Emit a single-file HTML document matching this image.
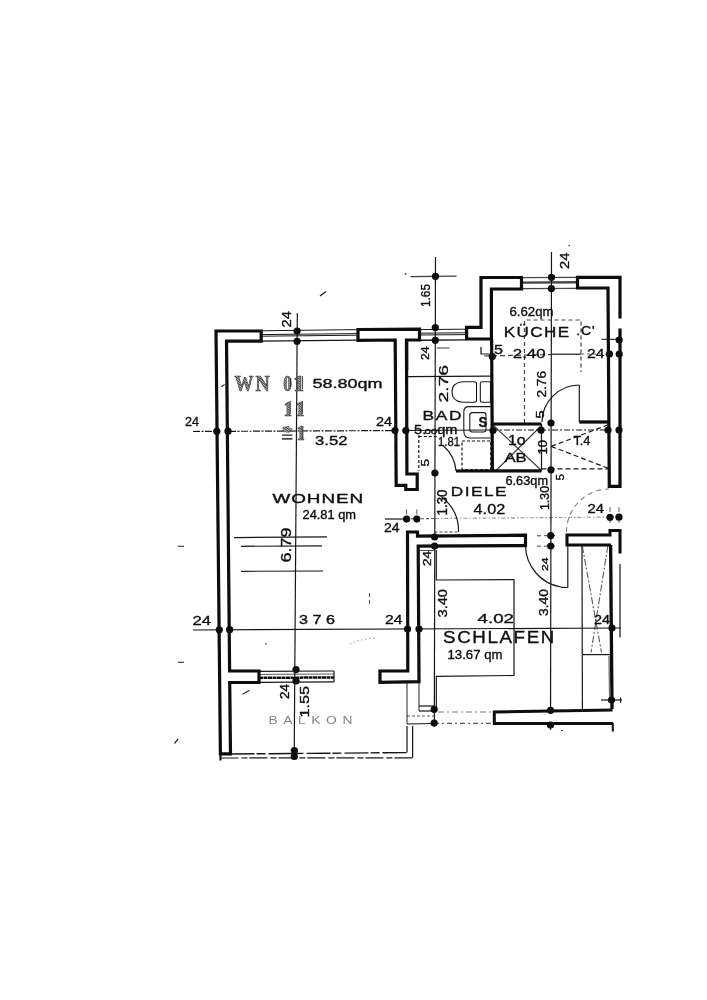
<!DOCTYPE html>
<html><head><meta charset="utf-8"><title>Grundriss</title>
<style>
html,body{margin:0;padding:0;background:#fff;}
body{width:707px;height:1000px;overflow:hidden;font-family:"Liberation Sans",sans-serif;}
svg{display:block;}
</style></head><body>
<svg width="707" height="1000" viewBox="0 0 707 1000">
<defs><filter id="soft" x="0" y="0" width="707" height="1000" filterUnits="userSpaceOnUse"><feGaussianBlur stdDeviation="0.45"/></filter><pattern id="hatch" width="1.5" height="1.5" patternUnits="userSpaceOnUse" patternTransform="rotate(62)"><rect width="1.5" height="1.5" fill="#c4c4c4"/><rect width="0.8" height="1.5" fill="#444"/></pattern></defs>
<rect width="707" height="1000" fill="#ffffff"/>
<g filter="url(#soft)">
<line x1="297.3" y1="313" x2="294.2" y2="757" stroke="#181818" stroke-width="1.2"/>
<line x1="435.5" y1="257" x2="434.3" y2="727" stroke="#181818" stroke-width="1.2"/>
<line x1="551.5" y1="252" x2="550.5" y2="730" stroke="#181818" stroke-width="1.2"/>
<line x1="193" y1="431.5" x2="406" y2="430.5" stroke="#181818" stroke-width="1.2" stroke-dasharray="7 1.5 2 1.5"/>
<line x1="406" y1="430.5" x2="492" y2="430" stroke="#181818" stroke-width="1.1"/>
<line x1="492" y1="430" x2="621" y2="430" stroke="#181818" stroke-width="1.2" stroke-dasharray="6 2 2 2"/>
<line x1="193" y1="630" x2="621" y2="628" stroke="#181818" stroke-width="1.2"/>
<line x1="484" y1="356" x2="552" y2="354.5" stroke="#181818" stroke-width="1.2" stroke-dasharray="5 3" stroke-opacity="0.8"/>
<line x1="552" y1="354.2" x2="581" y2="354.2" stroke="#181818" stroke-width="1.2"/>
<line x1="581" y1="354" x2="621" y2="354" stroke="#181818" stroke-width="1.2" stroke-dasharray="3 3" stroke-opacity="0.7"/>
<line x1="385" y1="519" x2="406" y2="519" stroke="#181818" stroke-width="1.2"/>
<line x1="406" y1="519" x2="435" y2="518.5" stroke="#181818" stroke-width="1.1" stroke-dasharray="3 2" stroke-opacity="0.7"/>
<line x1="435" y1="518.5" x2="621" y2="517" stroke="#181818" stroke-width="1.1" stroke-dasharray="4 2 1.5 2" stroke-opacity="0.45"/>
<line x1="410.5" y1="276.6" x2="456.5" y2="276.2" stroke="#181818" stroke-width="1.2" stroke-opacity="0.85"/>
<path d="M216,331 L261.2,331 L261.2,341.2 L226.5,341.2 L229.6,671 L259,671 L259,682.5 L229.7,682.5 L230.5,753.8 L220.4,753.8 Z" fill="#fff" stroke="#0a0a0a" stroke-width="3.2" stroke-linejoin="miter" />
<line x1="220.4" y1="753" x2="220.5" y2="760.5" stroke="#0a0a0a" stroke-width="2"/>
<path d="M358,329.5 L419.5,329.2 L419.5,340 L406.5,340 L406.9,474 L417.2,474 L417.2,489.5 L405.8,489.5 L405.8,485.3 L396.2,485.3 L395.2,340 L358,340.3 Z" fill="#fff" stroke="#0a0a0a" stroke-width="3.2" stroke-linejoin="miter" />
<line x1="406.6" y1="340" x2="406.6" y2="370" stroke="#0a0a0a" stroke-width="3.3"/>
<path d="M481,277.5 L521.5,277.5 L521.5,289 L491.4,289 L491.4,339 L466.6,339 L466.6,327.3 L481,327.3 Z" fill="#fff" stroke="#0a0a0a" stroke-width="3.2" stroke-linejoin="miter" />
<line x1="491.6" y1="339" x2="492.4" y2="471" stroke="#0a0a0a" stroke-width="3.2"/>
<path d="M577.5,277.3 L620,277.3 L620,486.3 L609.3,486.3 L608,288 L577.5,288 Z" fill="#fff" stroke="#0a0a0a" stroke-width="3.2" stroke-linejoin="miter" />
<line x1="620" y1="318.5" x2="620" y2="328.5" stroke="#fff" stroke-width="6"/>
<line x1="579.3" y1="422" x2="608.5" y2="422" stroke="#0a0a0a" stroke-width="3.2"/>
<line x1="492.5" y1="424" x2="541.5" y2="424" stroke="#0a0a0a" stroke-width="3.2"/>
<line x1="456" y1="471" x2="541.5" y2="470.8" stroke="#0a0a0a" stroke-width="3.2"/>
<line x1="541.5" y1="424" x2="541.5" y2="470.8" stroke="#181818" stroke-width="1.2"/>
<path d="M407.5,532 L417.5,532 L417.5,536.2 L525.5,535.2 L525.5,545.6 L418.2,546.2 L419,681.6 L380,682.3 L380,671 L407.8,671 Z" fill="#fff" stroke="#0a0a0a" stroke-width="3.2" stroke-linejoin="miter" />
<path d="M611,545 L567,545 L567,535 L610,535 L610,530.5 L620,530.5 L620,553.5" fill="#fff" stroke="#0a0a0a" stroke-width="3" stroke-linejoin="miter" />
<line x1="610.6" y1="545" x2="612" y2="709" stroke="#0a0a0a" stroke-width="3.3"/>
<line x1="620" y1="564" x2="620" y2="637.5" stroke="#181818" stroke-width="1.2"/>
<path d="M612.5,710 L494.3,712 L494.3,723.6 L612.8,723.4" fill="#fff" stroke="#0a0a0a" stroke-width="3" stroke-linejoin="miter" />
<line x1="612.8" y1="723" x2="612.8" y2="731.5" stroke="#0a0a0a" stroke-width="2"/>
<line x1="609" y1="656" x2="609.6" y2="697" stroke="#777" stroke-width="1.4"/>
<line x1="620.6" y1="697.5" x2="620.6" y2="703" stroke="#181818" stroke-width="1.1"/>
<line x1="261.2" y1="330.8" x2="358" y2="329.6" stroke="#181818" stroke-width="1"/>
<line x1="261.2" y1="334.6" x2="358" y2="333.6" stroke="#181818" stroke-width="1"/>
<line x1="261.2" y1="336.2" x2="358" y2="335.2" stroke="#181818" stroke-width="1"/>
<line x1="261.2" y1="341.2" x2="358" y2="340.2" stroke="#181818" stroke-width="1.2"/>
<line x1="419.5" y1="329.6" x2="465.8" y2="329.2" stroke="#181818" stroke-width="1"/>
<line x1="419.5" y1="333.2" x2="465.8" y2="332.8" stroke="#181818" stroke-width="1"/>
<line x1="419.5" y1="335" x2="465.8" y2="334.6" stroke="#181818" stroke-width="1"/>
<line x1="419.5" y1="340.3" x2="465.8" y2="339.9" stroke="#181818" stroke-width="1.4"/>
<line x1="521.5" y1="277.6" x2="577.5" y2="277.3" stroke="#181818" stroke-width="1.2" stroke-opacity="0.8"/>
<line x1="521.5" y1="282.6" x2="577.5" y2="282.3" stroke="#181818" stroke-width="2.4" stroke-opacity="0.8"/>
<line x1="521.5" y1="288.6" x2="577.5" y2="288.3" stroke="#181818" stroke-width="1.3" stroke-opacity="0.8"/>
<line x1="259" y1="671.4" x2="334" y2="671" stroke="#181818" stroke-width="1.2"/>
<line x1="259" y1="674.4" x2="334" y2="674" stroke="#181818" stroke-width="1" stroke-opacity="0.7"/>
<line x1="259" y1="677.9" x2="334" y2="677.4" stroke="#111" stroke-width="2.5" stroke-dasharray="4 0.5"/>
<line x1="259" y1="682.3" x2="334" y2="681.8" stroke="#181818" stroke-width="1.2"/>
<line x1="334" y1="671" x2="334" y2="682" stroke="#181818" stroke-width="1.2"/>
<line x1="230.5" y1="754" x2="407.5" y2="752.6" stroke="#181818" stroke-width="1.4" stroke-dasharray="24 2 9 3"/>
<line x1="220.4" y1="758" x2="412.6" y2="757.8" stroke="#181818" stroke-width="1.2" stroke-dasharray="18 3 6 2"/>
<line x1="407" y1="726" x2="407" y2="752.4" stroke="#181818" stroke-width="1.2"/>
<line x1="412.6" y1="726" x2="412.6" y2="757.8" stroke="#181818" stroke-width="1.2"/>
<line x1="407" y1="682.5" x2="407" y2="724" stroke="#181818" stroke-width="1.2" stroke-opacity="0.8"/>
<line x1="419" y1="682.5" x2="419" y2="711" stroke="#181818" stroke-width="1.2" stroke-opacity="0.8"/>
<line x1="419" y1="706" x2="434" y2="706" stroke="#181818" stroke-width="1.2"/>
<line x1="419" y1="711" x2="434" y2="711" stroke="#181818" stroke-width="1.2"/>
<line x1="407" y1="716" x2="434" y2="716" stroke="#181818" stroke-width="1.2" stroke-dasharray="3 2" stroke-opacity="0.7"/>
<line x1="407" y1="724" x2="434" y2="723.5" stroke="#181818" stroke-width="1.2"/>
<line x1="434" y1="723.3" x2="494" y2="723.3" stroke="#181818" stroke-width="1.2" stroke-dasharray="5 3 2 3" stroke-opacity="0.7"/>
<line x1="438" y1="712" x2="494" y2="712" stroke="#181818" stroke-width="1.1" stroke-dasharray="6 3 2 3" stroke-opacity="0.6"/>
<line x1="234" y1="537.6" x2="327" y2="536.8" stroke="#181818" stroke-width="1.2"/>
<line x1="241" y1="546.3" x2="322" y2="545.8" stroke="#181818" stroke-width="1.2"/>
<line x1="241" y1="571.3" x2="323" y2="571" stroke="#181818" stroke-width="1.2"/>
<line x1="406.5" y1="376.6" x2="491" y2="376.2" stroke="#181818" stroke-width="1.2"/>
<path d="M476.5,384 Q476.5,381.8 474,381.8 L462,381.8 Q452,383 452,392 Q452,401 462,402.2 L474,402.2 Q476.5,402.2 476.5,400 Z" fill="none" stroke="#181818" stroke-width="1.1"/>
<path d="M482,381.8 L490.5,381.8 L490.5,402.2 L482,402.2 Q480.3,402.2 480.3,400.5 L480.3,383.5 Q480.3,381.8 482,381.8 Z" fill="none" stroke="#181818" stroke-width="1.1"/>
<path d="M491.5,406.6 L469,406.6 Q463.8,406.6 463.8,412 L463.8,431 Q463.8,438 470,438 L491.5,438" fill="none" stroke="#181818" stroke-width="1.1"/>
<path d="M472,412.6 L483.5,412.6 Q486,412.6 486,415 L486,429.5 Q486,432 483.5,432 L472,432 Q469.8,432 469.8,429.5 L469.8,415 Q469.8,412.6 472,412.6 Z" fill="none" stroke="#181818" stroke-width="1.1"/>
<path d="M481,347 L481,354 L490.5,354" fill="none" stroke="#181818" stroke-width="1.2"/>
<line x1="436.7" y1="348" x2="449.5" y2="348" stroke="#181818" stroke-width="1.2" stroke-opacity="0.7"/>
<path d="M462,441 L490.7,441 L490.7,469.5 L462,469.5 Z" fill="none" stroke="#181818" stroke-width="1.2" stroke-dasharray="3 2"/>
<line x1="418.8" y1="435" x2="418.8" y2="471" stroke="#181818" stroke-width="1.2" stroke-dasharray="3 2"/>
<line x1="418.8" y1="436.5" x2="438" y2="436.5" stroke="#181818" stroke-width="1.2" stroke-dasharray="3 2"/>
<path d="M443.5,446 A37,37 0 0 1 456,471" fill="none" stroke="#181818" stroke-width="1.2"/>
<path d="M524.5,423 L524.5,320 L581,320 L581,372" fill="none" stroke="#181818" stroke-width="1.2" stroke-dasharray="4 3" stroke-opacity="0.8"/>
<line x1="579.3" y1="385" x2="579.3" y2="422" stroke="#181818" stroke-width="1.2"/>
<path d="M579.3,385 A37.5,37.5 0 0 0 542,422" fill="none" stroke="#181818" stroke-width="1.2"/>
<line x1="493" y1="425" x2="541.5" y2="470.5" stroke="#181818" stroke-width="1.1" stroke-opacity="0.85"/>
<line x1="541.5" y1="425.5" x2="496" y2="470.5" stroke="#181818" stroke-width="1.1" stroke-opacity="0.85"/>
<line x1="551.2" y1="446.4" x2="609" y2="424.5" stroke="#181818" stroke-width="1.2" stroke-dasharray="5 3"/>
<line x1="551.2" y1="446.4" x2="609" y2="468.6" stroke="#181818" stroke-width="1.2" stroke-dasharray="5 3"/>
<line x1="541.5" y1="468.8" x2="609" y2="468.8" stroke="#181818" stroke-width="1.2" stroke-dasharray="5 3"/>
<path d="M441.5,497 A41,41 0 0 1 458.5,532" fill="none" stroke="#181818" stroke-width="1.2"/>
<path d="M566.5,532 A43,43 0 0 1 609,489" fill="none" stroke="#181818" stroke-width="1.1" stroke-dasharray="5 4" stroke-opacity="0.55"/>
<line x1="567.8" y1="545" x2="567.8" y2="587.5" stroke="#181818" stroke-width="1.2"/>
<path d="M525.5,545.6 A42.5,42.5 0 0 0 561,587" fill="none" stroke="#181818" stroke-width="1.2"/>
<line x1="561" y1="587.3" x2="567.8" y2="587.5" stroke="#181818" stroke-width="1.2"/>
<path d="M436.3,550 L436.3,580 L514,579.6 L514,675.5 L436.3,676.3 L436.3,707" fill="none" stroke="#181818" stroke-width="1.2"/>
<line x1="582" y1="545" x2="582.4" y2="709" stroke="#181818" stroke-width="1.2"/>
<path d="M582.3,654.6 L610.8,654.6" fill="none" stroke="#181818" stroke-width="1.2"/>
<line x1="582.3" y1="546" x2="601.5" y2="652.5" stroke="#181818" stroke-width="1.1" stroke-dasharray="7 2 2 2" stroke-opacity="0.7"/>
<line x1="607.8" y1="546" x2="591" y2="652.5" stroke="#181818" stroke-width="1.1" stroke-dasharray="7 2 2 2" stroke-opacity="0.7"/>
<line x1="601" y1="700" x2="622" y2="700" stroke="#181818" stroke-width="1.2"/>
<line x1="537" y1="535.8" x2="558" y2="535.5" stroke="#181818" stroke-width="1" stroke-dasharray="4 3" stroke-opacity="0.8"/>
<line x1="537" y1="546.2" x2="558" y2="546" stroke="#181818" stroke-width="1" stroke-dasharray="4 3" stroke-opacity="0.8"/>
<line x1="601.5" y1="339.3" x2="619" y2="339.3" stroke="#181818" stroke-width="1.1"/>
<line x1="434.5" y1="532" x2="458.4" y2="532" stroke="#181818" stroke-width="1" stroke-dasharray="3 2" stroke-opacity="0.8"/>
<line x1="406.6" y1="509.5" x2="406.6" y2="526" stroke="#181818" stroke-width="1" stroke-dasharray="5 3" stroke-opacity="0.7"/>
<line x1="416.8" y1="509.5" x2="416.8" y2="524" stroke="#181818" stroke-width="1" stroke-dasharray="5 3" stroke-opacity="0.7"/>
<line x1="610" y1="507" x2="610" y2="523" stroke="#181818" stroke-width="1" stroke-dasharray="5 2" stroke-opacity="0.7"/>
<line x1="619" y1="507" x2="619" y2="523" stroke="#181818" stroke-width="1" stroke-dasharray="5 2" stroke-opacity="0.7"/>
<line x1="418" y1="550.5" x2="434.5" y2="550.5" stroke="#181818" stroke-width="1" stroke-opacity="0.8"/>
<circle cx="297.1" cy="331" r="3.6" fill="#0a0a0a"/>
<circle cx="297.1" cy="341.3" r="3.6" fill="#0a0a0a"/>
<circle cx="216.8" cy="431.3" r="3.6" fill="#0a0a0a"/>
<circle cx="228" cy="431.2" r="3.6" fill="#0a0a0a"/>
<circle cx="395" cy="430.5" r="3.6" fill="#0a0a0a"/>
<circle cx="405.8" cy="430.5" r="3.6" fill="#0a0a0a"/>
<circle cx="435.5" cy="276.3" r="3.6" fill="#0a0a0a"/>
<circle cx="435.3" cy="327.6" r="3.6" fill="#0a0a0a"/>
<circle cx="435.3" cy="340.3" r="3.6" fill="#0a0a0a"/>
<circle cx="434.9" cy="473" r="3.6" fill="#0a0a0a"/>
<circle cx="551.5" cy="277.3" r="3.6" fill="#0a0a0a"/>
<circle cx="551.4" cy="288.6" r="3.6" fill="#0a0a0a"/>
<circle cx="551" cy="423" r="3.6" fill="#0a0a0a"/>
<circle cx="551" cy="469.8" r="3.6" fill="#0a0a0a"/>
<circle cx="492.3" cy="356.5" r="3.6" fill="#0a0a0a"/>
<circle cx="609.5" cy="354" r="3.6" fill="#0a0a0a"/>
<circle cx="619.2" cy="354" r="3.6" fill="#0a0a0a"/>
<circle cx="619.2" cy="340" r="3.6" fill="#0a0a0a"/>
<circle cx="493" cy="430.5" r="3.6" fill="#0a0a0a"/>
<circle cx="541" cy="430.2" r="3.6" fill="#0a0a0a"/>
<circle cx="608" cy="430" r="3.6" fill="#0a0a0a"/>
<circle cx="619" cy="430" r="3.6" fill="#0a0a0a"/>
<circle cx="406.6" cy="519" r="3.6" fill="#0a0a0a"/>
<circle cx="416.8" cy="519" r="3.6" fill="#0a0a0a"/>
<circle cx="610" cy="517.3" r="3.6" fill="#0a0a0a"/>
<circle cx="619" cy="517.2" r="3.6" fill="#0a0a0a"/>
<circle cx="434.6" cy="537" r="3.6" fill="#0a0a0a"/>
<circle cx="434.6" cy="546" r="3.6" fill="#0a0a0a"/>
<circle cx="550.7" cy="535.6" r="3.6" fill="#0a0a0a"/>
<circle cx="550.7" cy="546" r="3.6" fill="#0a0a0a"/>
<circle cx="219.3" cy="629.8" r="3.6" fill="#0a0a0a"/>
<circle cx="229.6" cy="629.7" r="3.6" fill="#0a0a0a"/>
<circle cx="407.5" cy="629" r="3.6" fill="#0a0a0a"/>
<circle cx="419" cy="629" r="3.6" fill="#0a0a0a"/>
<circle cx="612" cy="628" r="3.6" fill="#0a0a0a"/>
<circle cx="296" cy="669.6" r="3.6" fill="#0a0a0a"/>
<circle cx="296" cy="681" r="3.6" fill="#0a0a0a"/>
<circle cx="294.4" cy="750.5" r="3.6" fill="#0a0a0a"/>
<circle cx="294.3" cy="756.5" r="3.6" fill="#0a0a0a"/>
<circle cx="434.2" cy="709.3" r="3.6" fill="#0a0a0a"/>
<circle cx="434.2" cy="723" r="3.6" fill="#0a0a0a"/>
<circle cx="550.6" cy="710.3" r="3.6" fill="#0a0a0a"/>
<circle cx="550.5" cy="725" r="3.6" fill="#0a0a0a"/>
<circle cx="611.5" cy="700" r="3.6" fill="#0a0a0a"/>
<text x="0" y="0" transform="translate(291,327.5) rotate(-90)" font-family="Liberation Sans" font-weight="normal" font-size="13.27" textLength="16.5" lengthAdjust="spacingAndGlyphs" fill="#111" stroke="#111" stroke-width="0.36">24</text>
<text x="0" y="0" transform="translate(430,307) rotate(-90)" font-family="Liberation Sans" font-weight="normal" font-size="13.27" textLength="23" lengthAdjust="spacingAndGlyphs" fill="#111" stroke="#111" stroke-width="0.36">1.65</text>
<text x="0" y="0" transform="translate(429.2,360) rotate(-90)" font-family="Liberation Sans" font-weight="normal" font-size="10.75" textLength="13.7" lengthAdjust="spacingAndGlyphs" fill="#111" stroke="#111" stroke-width="0.36">24</text>
<text x="0" y="0" transform="translate(447.6,402.5) rotate(-90)" font-family="Liberation Sans" font-weight="normal" font-size="13.69" textLength="37.5" lengthAdjust="spacingAndGlyphs" fill="#111" stroke="#111" stroke-width="0.36">2.76</text>
<text x="0" y="0" transform="translate(429,466.5) rotate(-90)" font-family="Liberation Sans" font-weight="normal" font-size="11.17" textLength="7.5" lengthAdjust="spacingAndGlyphs" fill="#111" stroke="#111" stroke-width="0.36">5</text>
<text x="0" y="0" transform="translate(569.2,269) rotate(-90)" font-family="Liberation Sans" font-weight="normal" font-size="13.55" textLength="16.5" lengthAdjust="spacingAndGlyphs" fill="#111" stroke="#111" stroke-width="0.36">24</text>
<text x="0" y="0" transform="translate(545.8,397.5) rotate(-90)" font-family="Liberation Sans" font-weight="normal" font-size="13.41" textLength="26.5" lengthAdjust="spacingAndGlyphs" fill="#111" stroke="#111" stroke-width="0.36">2.76</text>
<text x="0" y="0" transform="translate(544,418.5) rotate(-90)" font-family="Liberation Sans" font-weight="normal" font-size="10.47" textLength="8" lengthAdjust="spacingAndGlyphs" fill="#111" stroke="#111" stroke-width="0.36">5</text>
<text x="0" y="0" transform="translate(547,454.5) rotate(-90)" font-family="Liberation Sans" font-weight="normal" font-size="11.87" textLength="14.5" lengthAdjust="spacingAndGlyphs" fill="#111" stroke="#111" stroke-width="0.36">10</text>
<text x="0" y="0" transform="translate(563.5,480.5) rotate(-90)" font-family="Liberation Sans" font-weight="normal" font-size="11.17" textLength="6.5" lengthAdjust="spacingAndGlyphs" fill="#111" stroke="#111" stroke-width="0.36">5</text>
<text x="0" y="0" transform="translate(447.4,515.5) rotate(-90)" font-family="Liberation Sans" font-weight="normal" font-size="14.25" textLength="26" lengthAdjust="spacingAndGlyphs" fill="#111" stroke="#111" stroke-width="0.36">1.30</text>
<text x="0" y="0" transform="translate(549,510) rotate(-90)" font-family="Liberation Sans" font-weight="normal" font-size="12.57" textLength="24" lengthAdjust="spacingAndGlyphs" fill="#111" stroke="#111" stroke-width="0.36">1.30</text>
<text x="0" y="0" transform="translate(431.2,566) rotate(-90)" font-family="Liberation Sans" font-weight="normal" font-size="10.06" textLength="15" lengthAdjust="spacingAndGlyphs" fill="#111" stroke="#111" stroke-width="0.36">24</text>
<text x="0" y="0" transform="translate(548,571) rotate(-90)" font-family="Liberation Sans" font-weight="normal" font-size="9.78" textLength="13.5" lengthAdjust="spacingAndGlyphs" fill="#111" stroke="#111" stroke-width="0.36">24</text>
<text x="0" y="0" transform="translate(447.4,617.5) rotate(-90)" font-family="Liberation Sans" font-weight="normal" font-size="13.41" textLength="28.5" lengthAdjust="spacingAndGlyphs" fill="#111" stroke="#111" stroke-width="0.36">3.40</text>
<text x="0" y="0" transform="translate(547.5,616) rotate(-90)" font-family="Liberation Sans" font-weight="normal" font-size="13.27" textLength="27" lengthAdjust="spacingAndGlyphs" fill="#111" stroke="#111" stroke-width="0.36">3.40</text>
<text x="0" y="0" transform="translate(291,562.5) rotate(-90)" font-family="Liberation Sans" font-weight="normal" font-size="14.66" textLength="35" lengthAdjust="spacingAndGlyphs" fill="#111" stroke="#111" stroke-width="0.36">6.79</text>
<text x="0" y="0" transform="translate(289,699) rotate(-90)" font-family="Liberation Sans" font-weight="normal" font-size="11.87" textLength="15" lengthAdjust="spacingAndGlyphs" fill="#111" stroke="#111" stroke-width="0.36">24</text>
<text x="0" y="0" transform="translate(309,717.5) rotate(-90)" font-family="Liberation Sans" font-weight="normal" font-size="13.55" textLength="31.5" lengthAdjust="spacingAndGlyphs" fill="#111" stroke="#111" stroke-width="0.36">1.55</text>
<text x="185" y="426" font-family="Liberation Sans" font-weight="normal" font-size="13.27" textLength="14" lengthAdjust="spacingAndGlyphs" fill="#111" stroke="#111" stroke-width="0.36">24</text>
<text x="376" y="426.2" font-family="Liberation Sans" font-weight="normal" font-size="12.15" textLength="16" lengthAdjust="spacingAndGlyphs" fill="#111" stroke="#111" stroke-width="0.36">24</text>
<text x="315" y="445.2" font-family="Liberation Sans" font-weight="normal" font-size="12.85" textLength="32.5" lengthAdjust="spacingAndGlyphs" fill="#111" stroke="#111" stroke-width="0.36">3.52</text>
<text x="192.5" y="625" font-family="Liberation Sans" font-weight="normal" font-size="13.27" textLength="18.5" lengthAdjust="spacingAndGlyphs" fill="#111" stroke="#111" stroke-width="0.36">24</text>
<text x="299" y="624" font-family="Liberation Sans" font-weight="normal" font-size="13.27" textLength="36" lengthAdjust="spacingAndGlyphs" fill="#111" stroke="#111" stroke-width="0.36">3 7 6</text>
<text x="385" y="624" font-family="Liberation Sans" font-weight="normal" font-size="12.57" textLength="17.5" lengthAdjust="spacingAndGlyphs" fill="#111" stroke="#111" stroke-width="0.36">24</text>
<text x="384" y="532" font-family="Liberation Sans" font-weight="normal" font-size="13.69" textLength="15.6" lengthAdjust="spacingAndGlyphs" fill="#111" stroke="#111" stroke-width="0.36">24</text>
<text x="587.5" y="512.7" font-family="Liberation Sans" font-weight="normal" font-size="12.15" textLength="16.5" lengthAdjust="spacingAndGlyphs" fill="#111" stroke="#111" stroke-width="0.36">24</text>
<text x="587" y="357.7" font-family="Liberation Sans" font-weight="normal" font-size="13.55" textLength="17.5" lengthAdjust="spacingAndGlyphs" fill="#111" stroke="#111" stroke-width="0.36">24</text>
<text x="494" y="354" font-family="Liberation Sans" font-weight="normal" font-size="13.55" textLength="9" lengthAdjust="spacingAndGlyphs" fill="#111" stroke="#111" stroke-width="0.36">5</text>
<text x="512.8" y="357.5" font-family="Liberation Sans" font-weight="normal" font-size="13.55" textLength="32.7" lengthAdjust="spacingAndGlyphs" fill="#111" stroke="#111" stroke-width="0.36">2.40</text>
<text x="473.6" y="513.6" font-family="Liberation Sans" font-weight="normal" font-size="14.80" textLength="31.6" lengthAdjust="spacingAndGlyphs" fill="#111" stroke="#111" stroke-width="0.36">4.02</text>
<text x="477.5" y="622.5" font-family="Liberation Sans" font-weight="normal" font-size="13.55" textLength="36.5" lengthAdjust="spacingAndGlyphs" fill="#111" stroke="#111" stroke-width="0.36">4.02</text>
<text x="594" y="623.5" font-family="Liberation Sans" font-weight="normal" font-size="12.85" textLength="16" lengthAdjust="spacingAndGlyphs" fill="#111" stroke="#111" stroke-width="0.36">24</text>
<text x="438" y="446" font-family="Liberation Sans" font-weight="normal" font-size="12.85" textLength="22" lengthAdjust="spacingAndGlyphs" fill="#111" stroke="#111" stroke-width="0.36">1.81</text>
<text x="573.4" y="445.3" font-family="Liberation Sans" font-weight="normal" font-size="12.99" textLength="16.9" lengthAdjust="spacingAndGlyphs" fill="#111" stroke="#111" stroke-width="0.36">T.4</text>
<text x="508" y="445.3" font-family="Liberation Sans" font-weight="normal" font-size="14.39" textLength="17.6" lengthAdjust="spacingAndGlyphs" fill="#111" stroke="#111" stroke-width="0.36">1o</text>
<text x="504.4" y="462.4" font-family="Liberation Sans" font-weight="normal" font-size="13.13" textLength="22.3" lengthAdjust="spacingAndGlyphs" fill="#111" stroke="#111" stroke-width="0.36">AB</text>
<text x="312.5" y="388.2" font-family="Liberation Sans" font-weight="normal" font-size="12.85" textLength="70" lengthAdjust="spacingAndGlyphs" fill="#111" stroke="#111" stroke-width="0.36">58.80qm</text>
<text x="302.5" y="518.8" font-family="Liberation Sans" font-weight="normal" font-size="11.87" textLength="53.5" lengthAdjust="spacingAndGlyphs" fill="#111" stroke="#111" stroke-width="0.36">24.81 qm</text>
<text x="509.5" y="316" font-family="Liberation Sans" font-weight="normal" font-size="12.57" textLength="44" lengthAdjust="spacingAndGlyphs" fill="#111" stroke="#111" stroke-width="0.36">6.62qm</text>
<text x="505.5" y="484.5" font-family="Liberation Sans" font-weight="normal" font-size="11.87" textLength="42.5" lengthAdjust="spacingAndGlyphs" fill="#111" stroke="#111" stroke-width="0.36">6.63qm</text>
<text x="447.5" y="659" font-family="Liberation Sans" font-weight="normal" font-size="12.57" textLength="55" lengthAdjust="spacingAndGlyphs" fill="#111" stroke="#111" stroke-width="0.36">13.67 qm</text>
<text x="414" y="433.5" font-family="Liberation Sans" font-weight="normal" font-size="12.15" textLength="43.5" lengthAdjust="spacingAndGlyphs" fill="#111" stroke="#111" stroke-width="0.36">5.<tspan font-size='9.5' dy='0.3' dx='-1.5'>oo</tspan><tspan dy='-0.3'>qm</tspan></text>
<text x="272.5" y="502.5" font-family="Liberation Sans" font-weight="normal" font-size="12.15" textLength="91.5" lengthAdjust="spacingAndGlyphs" fill="#111" letter-spacing="0.6" stroke="#111" stroke-width="0.36">WOHNEN</text>
<text x="422.6" y="420.2" font-family="Liberation Sans" font-weight="normal" font-size="13.13" textLength="40.4" lengthAdjust="spacingAndGlyphs" fill="#111" letter-spacing="1.2" stroke="#111" stroke-width="0.36">BAD</text>
<text x="503.8" y="336.8" font-family="Liberation Sans" font-weight="normal" font-size="14.53" textLength="66.8" lengthAdjust="spacingAndGlyphs" fill="#111" letter-spacing="1.2" stroke="#111" stroke-width="0.36">KÜCHE</text>
<text x="576.2" y="334.8" font-family="Liberation Sans" font-weight="normal" font-size="12.85" textLength="19.3" lengthAdjust="spacingAndGlyphs" fill="#111" letter-spacing="0.8" stroke="#111" stroke-width="0.36">.C'</text>
<text x="450.8" y="495.6" font-family="Liberation Sans" font-weight="normal" font-size="13.69" textLength="57.2" lengthAdjust="spacingAndGlyphs" fill="#111" letter-spacing="1.2" stroke="#111" stroke-width="0.36">DIELE</text>
<text x="443" y="643" font-family="Liberation Sans" font-weight="normal" font-size="15.92" textLength="113" lengthAdjust="spacingAndGlyphs" fill="#111" letter-spacing="1.4" stroke="#111" stroke-width="0.36">SCHLAFEN</text>
<text x="268.5" y="724" font-family="Liberation Sans" font-weight="normal" font-size="11.17" textLength="89.5" lengthAdjust="spacingAndGlyphs" fill="#666" fill-opacity="0.8" letter-spacing="4.5" >BALKON</text>
<text x="478.6" y="426.8" font-family="Liberation Sans" font-weight="bold" font-size="15.08" textLength="8.6" lengthAdjust="spacingAndGlyphs" fill="#111" stroke="#111" stroke-width="0.36">S</text>
<text x="234.5" y="390.6" font-family="Liberation Serif" font-weight="bold" font-size="22.63" textLength="19" lengthAdjust="spacingAndGlyphs" fill="url(#hatch)" stroke="#3c3c3c" stroke-width="0.7">W</text>
<text x="255.5" y="390.6" font-family="Liberation Serif" font-weight="bold" font-size="22.63" textLength="14.3" lengthAdjust="spacingAndGlyphs" fill="url(#hatch)" stroke="#3c3c3c" stroke-width="0.7">N</text>
<text x="283.2" y="390.6" font-family="Liberation Serif" font-weight="bold" font-size="22.63" textLength="8.6" lengthAdjust="spacingAndGlyphs" fill="url(#hatch)" stroke="#3c3c3c" stroke-width="0.7">0</text>
<text x="293.3" y="390.6" font-family="Liberation Serif" font-weight="bold" font-size="22.63" textLength="10.9" lengthAdjust="spacingAndGlyphs" fill="url(#hatch)" stroke="#3c3c3c" stroke-width="0.7">1</text>
<text x="283.8" y="415.5" font-family="Liberation Serif" font-weight="bold" font-size="21.93" textLength="8.2" lengthAdjust="spacingAndGlyphs" fill="url(#hatch)" stroke="#3c3c3c" stroke-width="0.7">1</text>
<text x="295.6" y="415.5" font-family="Liberation Serif" font-weight="bold" font-size="21.93" textLength="8.7" lengthAdjust="spacingAndGlyphs" fill="url(#hatch)" stroke="#3c3c3c" stroke-width="0.7">1</text>
<text x="296.7" y="440.4" font-family="Liberation Serif" font-weight="bold" font-size="21.79" textLength="8" lengthAdjust="spacingAndGlyphs" fill="url(#hatch)" stroke="#3c3c3c" stroke-width="0.7">1</text>
<path d="M283,427.2 L289,426.2 L289,428.2 L292,428.6 L292,431 L289,431.4 L289,432.6 L283,431.6 Z" fill="url(#hatch)" stroke="#555" stroke-width="0.5"/>
<line x1="282" y1="435.2" x2="292.5" y2="435.2" stroke="#555" stroke-width="1.6"/>
<line x1="282" y1="438.8" x2="292.5" y2="438.8" stroke="#444" stroke-width="1.8"/>
<line x1="302.3" y1="376" x2="302.3" y2="389" stroke="#333" stroke-width="1.1"/>
<line x1="290.2" y1="401" x2="290.2" y2="414" stroke="#333" stroke-width="1.1"/>
<line x1="302.3" y1="401" x2="302.3" y2="414" stroke="#333" stroke-width="1.1"/>
<line x1="302.8" y1="426" x2="302.8" y2="439" stroke="#333" stroke-width="1.1"/>
<line x1="290.6" y1="378" x2="290.6" y2="387" stroke="#333" stroke-width="1.1"/>
<line x1="320" y1="296" x2="326" y2="291.5" stroke="#222" stroke-width="1.3"/>
<line x1="221.3" y1="386.8" x2="224.6" y2="384.4" stroke="#333" stroke-width="1.2"/>
<line x1="178" y1="546.3" x2="184" y2="546.3" stroke="#444" stroke-width="1.2"/>
<line x1="178" y1="662.3" x2="184" y2="662.3" stroke="#444" stroke-width="1.2"/>
<line x1="174.5" y1="743.5" x2="178" y2="739" stroke="#333" stroke-width="1.3"/>
<line x1="242.6" y1="694.2" x2="249.5" y2="690.2" stroke="#333" stroke-width="1.3"/>
<circle cx="266" cy="643.7" r="0.7" fill="#0a0a0a"/>
<circle cx="562" cy="730.5" r="0.8" fill="#0a0a0a"/>
<line x1="404.8" y1="273" x2="406.2" y2="275" stroke="#444" stroke-width="1.2"/>
<line x1="369.5" y1="593" x2="369.5" y2="604" stroke="#555" stroke-width="1" stroke-dasharray="4 3"/>
<line x1="568.8" y1="245" x2="569.6" y2="246.2" stroke="#444" stroke-width="1.4"/>
<path d="M350,644 Q360,639 375,638" fill="none" stroke="#888" stroke-width="1" stroke-dasharray="1.5 2.5"/>
</g>
</svg>
</body></html>
